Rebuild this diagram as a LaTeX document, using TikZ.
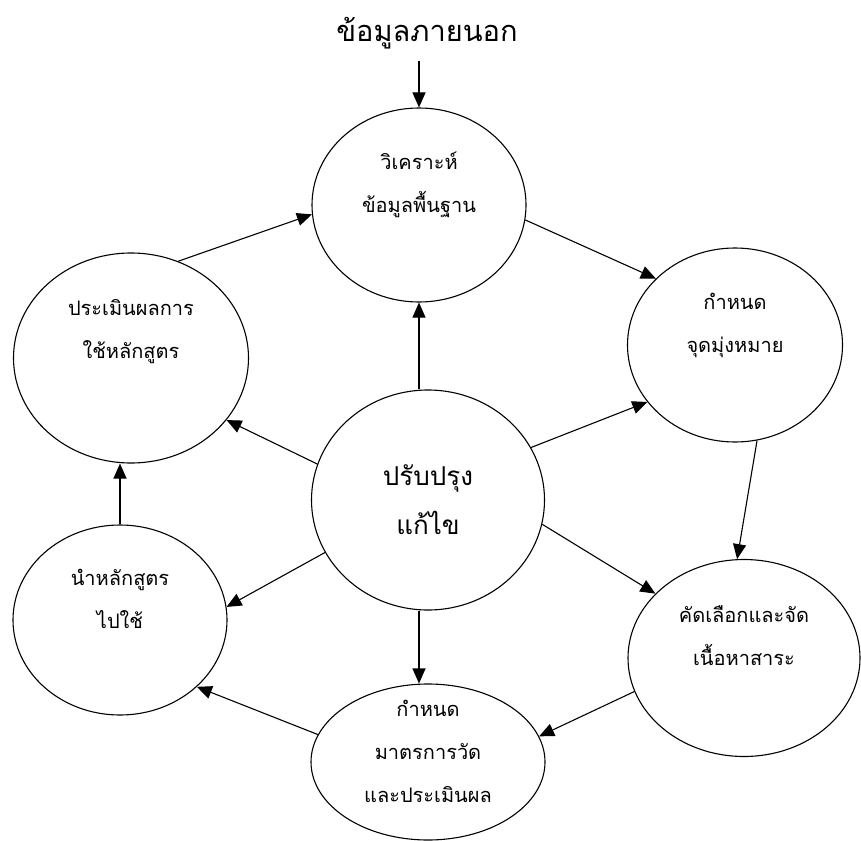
\documentclass[tikz,border=0pt]{standalone}
\usepackage{fontspec}
\newfontfamily\thaifont[Script=Thai]{Loma}
\usetikzlibrary{arrows.meta, shapes.geometric}

\begin{document}
\begin{tikzpicture}[x=1pt, y=-1pt,
stage/.style = {% Ellipse of one step
ellipse, draw, line width=1.1pt, inner sep=0pt},
txt/.style = {font=\thaifont\fontsize{20}{43}\selectfont, align=center},
arr/.style = {% Arrow between steps
-{Triangle[length=15pt, width=13pt]}, line width=1.1pt}]
\useasboundingbox (0,0) rectangle (861,840);
% outer input
\node[font=\thaifont\fontsize{29}{36}\selectfont] (ext) at (427,33) {ข้อมูลภายนอก};
% steps
\node[stage, minimum width=214pt, minimum height=194pt,
      label={[txt, yshift=20pt]center:วิเคราะห์\\ข้อมูลพื้นฐาน}] (ana) at (419,205) {};
\node[stage, minimum width=215pt, minimum height=194pt,
      label={[txt, yshift=20pt]center:กำหนด\\จุดมุ่งหมาย}] (goal) at (735,345) {};
\node[stage, minimum width=232pt, minimum height=197pt,
      label={[txt, yshift=22pt]center:คัดเลือกและจัด\\เนื้อหาสาระ}] (sel) at (744,658) {};
\node[stage, minimum width=234pt, minimum height=156pt,
      label={[txt, yshift=11pt]center:กำหนด\\มาตรการวัด\\และประเมินผล}] (meas) at (428,762) {};
\node[stage, minimum width=214pt, minimum height=190pt,
      label={[txt, yshift=21pt]center:นำหลักสูตร\\ไปใช้}] (use) at (120,620) {};
\node[stage, minimum width=235pt, minimum height=210pt,
      label={[txt, yshift=26pt]center:ประเมินผลการ\\ใช้หลักสูตร}] (eval) at (131,358) {};
% centre
\node[stage, txt, font=\thaifont\fontsize{26}{49}\selectfont,
      minimum width=233pt, minimum height=220pt] (imp) at (428,500) {ปรับปรุง\\แก้ไข};
% cycle arrows
\draw[arr, shorten <=9pt] (ext.south -| ana.north) -- (ana.north);
\draw[arr] (ana.-8) -- (goal.140);
\draw[arr] (goal.-77) -- (sel.94);
\draw[arr] (sel.197) -- (meas.13);
\draw[arr] (meas.166) -- (use.-41);
\draw[arr] (use.north) -- (use.north |- eval.south);
\draw[arr] (eval.64) -- (ana.185);
% arrows from the centre
\draw[arr] (imp.north -| ana.south) -- (ana.south);
\draw[arr] (imp.27) -- (goal.213);
\draw[arr] (imp.-12) -- (sel.144);
\draw[arr] (imp.south -| ana.south) -- (meas.north -| ana.south);
\draw[arr] (imp.207) -- (use.7);
\draw[arr] (imp.162) -- (eval.-33);
\end{tikzpicture}
\end{document}
